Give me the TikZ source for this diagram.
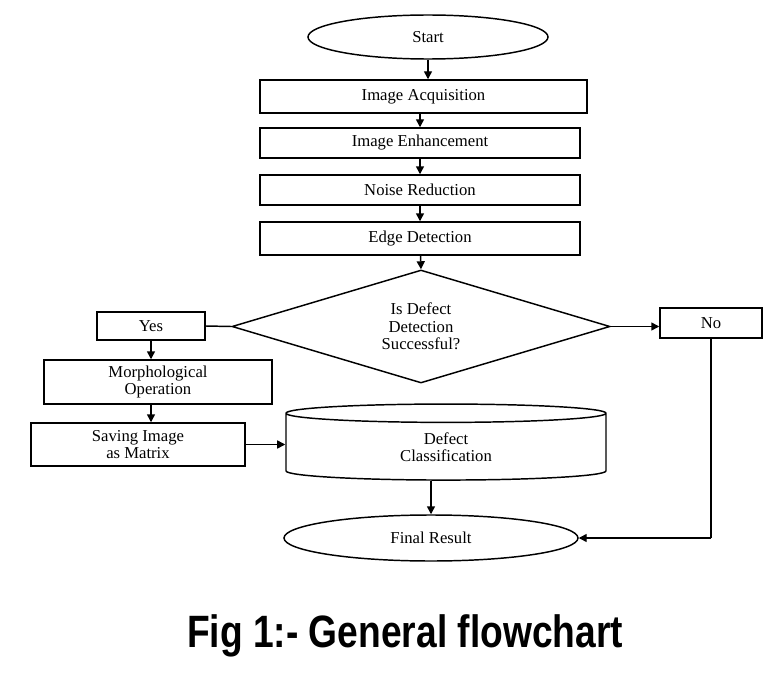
\documentclass[tikz,border=0pt]{standalone}
\usepackage{fontspec}
\setmainfont{Liberation Serif}
\newfontfamily\capfont{Liberation Sans}
\usetikzlibrary{shapes.geometric,arrows.meta}
\begin{document}
\begin{tikzpicture}[x=0.75pt,y=-0.75pt,line width=1.1pt,
  txt/.style={font=\fontsize{12.5}{13}\selectfont},
  box/.style={draw,rectangle,align=center,inner sep=0pt,txt},
  ell/.style={draw,ellipse,inner sep=0pt,txt},
  arr/.style={-{Triangle[length=6pt,width=6pt]}}]
\useasboundingbox (0,0) rectangle (775,685);
\node[ell,minimum width=240*0.75pt,minimum height=44*0.75pt] (start) at (428,37) {Start};
\node[box,minimum width=327*0.75pt,minimum height=33*0.75pt] (acq) at (423.5,96.5) {Image Acquisition};
\node[box,minimum width=320*0.75pt,minimum height=30*0.75pt] (enh) at (420,143) {Image Enhancement};
\node[box,minimum width=320*0.75pt,minimum height=30*0.75pt] (noise) at (420,190) {Noise Reduction};
\node[box,minimum width=320*0.75pt,minimum height=33*0.75pt] (edge) at (420,238.5) {Edge Detection};
\node[draw,diamond,aspect=3.35,inner sep=0pt,minimum width=378*0.75pt,minimum height=113*0.75pt,align=center,txt] (dec) at (421,326.5) {Is Defect\\Detection\\Successful?};
\node[box,minimum width=108*0.75pt,minimum height=28*0.75pt] (yes) at (151,326) {Yes};
\node[box,minimum width=102*0.75pt,minimum height=30*0.75pt] (no) at (711,323) {No};
\node[box,minimum width=228*0.75pt,minimum height=44*0.75pt] (morph) at (158,382) {Morphological\\Operation};
\node[box,minimum width=214*0.75pt,minimum height=43*0.75pt] (save) at (138,444.5) {Saving Image\\as Matrix};
\node[draw,cylinder,shape border rotate=90,aspect=0.2,minimum width=320*0.75pt,minimum height=76*0.75pt,inner sep=0pt,align=center,txt] (cls) at (446,447) {Defect\\Classification};
\node[ell,minimum width=294*0.75pt,minimum height=46*0.75pt] (fin) at (431,538) {Final Result};
\coordinate (nc) at (711,538);
\draw[arr] (start.south) -- (start.south|-acq.north);
\draw[arr] (acq.south-|enh.north) -- (enh);
\draw[arr] (enh) -- (noise);
\draw[arr] (noise) -- (edge);
\draw[arr] (edge) -- (dec.north);
\draw (dec.west) -- (yes.east);
\draw[arr] (dec.east) -- (no.west|-dec.east);
\draw[arr] (yes.south) -- (yes.south|-morph.north);
\draw[arr] (yes.south|-morph.south) -- (yes.south|-save.north);
\draw[arr] (save.east) -- (cls.west|-save.east);
\draw[arr] (cls.south-|fin.north) -- (fin.north);
\draw (no.south) -- (nc);
\draw[arr] (nc) -- (fin.east);
\node[font=\capfont\bfseries\fontsize{34}{36}\selectfont,xscale=0.82] (cap) at (405,636) {Fig 1:- General flowchart};
\end{tikzpicture}
\end{document}
